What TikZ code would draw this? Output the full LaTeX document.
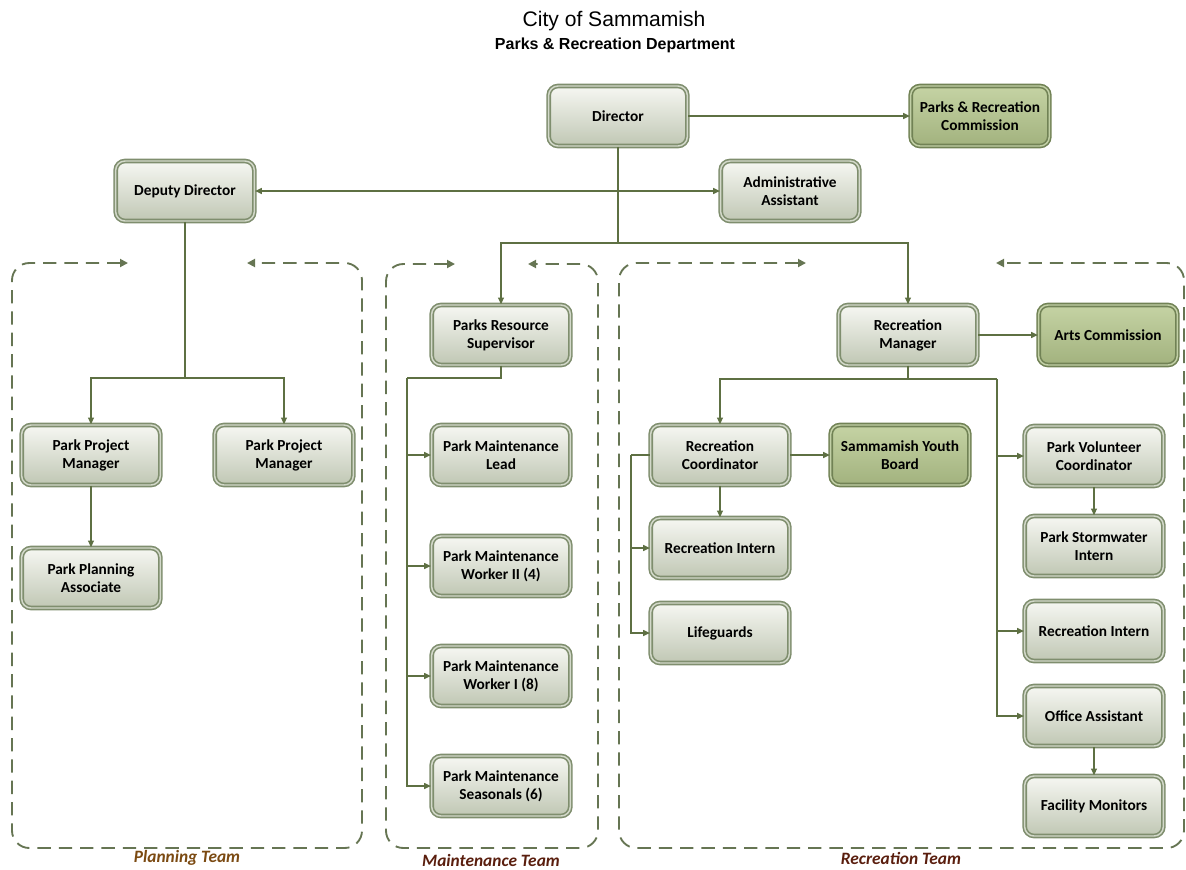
\documentclass[tikz,border=0pt]{standalone}
\usepackage{fontspec}
\setmainfont{Carlito}
\newfontfamily\titlefont{Liberation Sans}
\usetikzlibrary{arrows.meta,positioning,shadows}
\definecolor{linegreen}{HTML}{5E7043}
\definecolor{dashgreen}{HTML}{667553}
\definecolor{boxedge}{HTML}{7F8E6E}
\definecolor{boxrim}{HTML}{D3D9CA}
\definecolor{boxtop}{HTML}{F6F7F2}
\definecolor{boxbot}{HTML}{C0C7B4}
\definecolor{grnedge}{HTML}{718255}
\definecolor{grnrim}{HTML}{C2D0A6}
\definecolor{grntop}{HTML}{C5D3A4}
\definecolor{grnbot}{HTML}{A2B27E}
\definecolor{planbrown}{HTML}{7B4A12}
\definecolor{teamred}{HTML}{5A1E0E}
\tikzstyle{post} = [rectangle, rounded corners=7pt, minimum width=104pt, minimum height=45pt, align=center, font=\bfseries\fontsize{11.5}{13.5}\selectfont, top color=boxtop, bottom color=boxbot, draw=boxedge, double=boxrim, double distance=1.1pt, line width=1.2pt, drop shadow={opacity=0.3, shadow xshift=1.2pt, shadow yshift=-1.2pt}]
\tikzstyle{board} = [post, top color=grntop, bottom color=grnbot, draw=grnedge, double=grnrim]
\tikzstyle{link} = [-{Triangle[length=5pt,width=4.5pt]}, linegreen, line width=0.8pt]
\tikzstyle{team} = [{Triangle[length=6pt,width=6pt]}-{Triangle[length=6pt,width=6pt]}, dashgreen, line width=1.4pt, dash pattern=on 10pt off 6pt, rounded corners=13pt]
\tikzstyle{teamlabel} = [font=\bfseries\itshape\fontsize{13}{15}\selectfont]

\begin{document}
\begin{tikzpicture}[x=0.75pt, y=-0.75pt]
	\useasboundingbox (0,0) rectangle (1186,869);
	
	% titles
	\node[font=\titlefont\fontsize{15.8}{18}\selectfont] (title) at (614,21) {City of Sammamish};
	\node[font=\titlefont\bfseries\fontsize{12}{14}\selectfont] (subtitle) at (615,45) {Parks \& Recreation Department};
	
	% team frames
	\draw [team] (128,263) -- (12,263) -- (12,848) -- (362,848) -- (362,263) -- (247,263);
	\draw [team] (455,264) -- (386,264) -- (386,848) -- (598,848) -- (598,264) -- (528,264);
	\draw [team] (806,263) -- (619,263) -- (619,848) -- (1184,848) -- (1184,263) -- (996,263);
	\node[teamlabel, text=planbrown] (plan) at (187,858) {Planning Team};
	\node[teamlabel, text=teamred] (maint) at (491,860) {Maintenance Team};
	\node[teamlabel, text=teamred] (recr) at (901,858) {Recreation Team};
	
	% top level
	\node[post] (dir) at (618,116) {Director};
	\node[board] (prc) at (980,116) {Parks \& Recreation\\Commission};
	\node[post] (dep) at (185,191) {Deputy Director};
	\node[post] (adm) at (790,191) {Administrative\\Assistant};
	
	% planning
	\node[post] (ppm1) at (91,455) {Park Project\\Manager};
	\node[post] (ppm2) at (284,455) {Park Project\\Manager};
	\node[post] (ppa) at (91,578) {Park Planning\\Associate};
	
	% maintenance
	\node[post] (prs) at (501,335) {Parks Resource\\Supervisor};
	\node[post] (pml) at (501,455) {Park Maintenance\\Lead};
	\node[post] (pmw2) at (501,566) {Park Maintenance\\Worker II (4)};
	\node[post] (pmw1) at (501,676) {Park Maintenance\\Worker I (8)};
	\node[post] (pms) at (501,786) {Park Maintenance\\Seasonals (6)};
	
	% recreation
	\node[post] (rm) at (908,335) {Recreation\\Manager};
	\node[board] (arts) at (1108,335) {Arts Commission};
	\node[post] (rc) at (720,455) {Recreation\\Coordinator};
	\node[board] (syb) at (900,455) {Sammamish Youth\\Board};
	\node[post] (ri1) at (720,548) {Recreation Intern};
	\node[post] (lg) at (720,633) {Lifeguards};
	\node[post] (pvc) at (1094,456) {Park Volunteer\\Coordinator};
	\node[post] (psi) at (1094,546) {Park Stormwater\\Intern};
	\node[post] (ri2) at (1094,631) {Recreation Intern};
	\node[post] (oa) at (1094,716) {Office Assistant};
	\node[post] (fm) at (1094,806) {Facility Monitors};
	
	% junctions
	\coordinate (split) at (618,243);
	\coordinate (dsplit) at (185,378);
	\coordinate (mbus) at (407,378);
	\coordinate (rbusL) at (720,379);
	\coordinate (rbusR) at (997,379);
	\coordinate (cbus) at (631,455);
	
	%arrow
	\draw [link] (dir) -- (prc);
	\draw [link, {Triangle[length=5pt,width=4.5pt]}-{Triangle[length=5pt,width=4.5pt]}] (dep) -- (adm);
	\draw [link, -] (dir.south) -- (split);
	\draw [link] (split) -| (prs.north);
	\draw [link] (split) -| (rm.north);
	
	\draw [link, -] (dep.south) -- (dsplit);
	\draw [link] (dsplit) -| (ppm1.north);
	\draw [link] (dsplit) -| (ppm2.north);
	\draw [link] (ppm1) -- (ppa);
	
	\draw [link, -] (prs.south) |- (mbus);
	\foreach \n in {pml, pmw2, pmw1, pms}
		\draw [link] (mbus) |- (\n.west);
	
	\draw [link] (rm) -- (arts);
	\draw [link] (rm.south) |- (rbusL) -- (rc.north);
	\draw [link, -] (rm.south) |- (rbusR);
	\foreach \n in {pvc, ri2, oa}
		\draw [link] (rbusR) |- (\n.west);
	\draw [link] (pvc) -- (psi);
	\draw [link] (oa) -- (fm);
	
	\draw [link] (rc) -- (syb);
	\draw [link] (rc) -- (ri1);
	\draw [link, -] (rc.west) -- (cbus);
	\draw [link] (cbus) |- (ri1.west);
	\draw [link] (cbus) |- (lg.west);
\end{tikzpicture}
\end{document}
